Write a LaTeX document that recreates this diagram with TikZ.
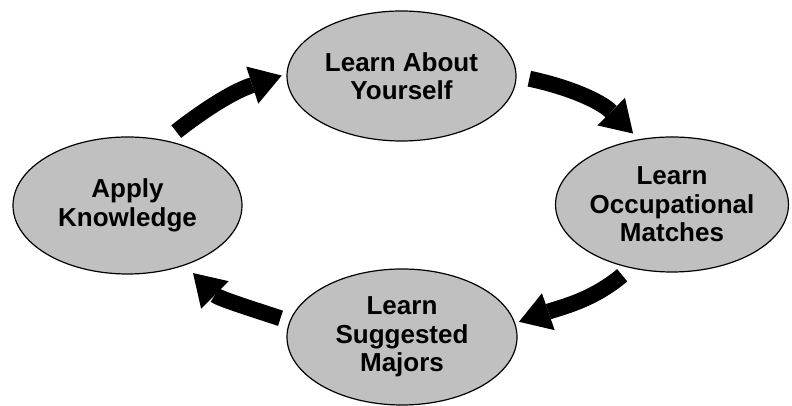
\documentclass[tikz,border=0pt]{standalone}
\usepackage{fontspec}
\setmainfont{Liberation Sans}
\usetikzlibrary{shapes.geometric,arrows.meta}
\definecolor{ovalgray}{HTML}{C0C0C0}

\begin{document}
\begin{tikzpicture}[x=1pt, y=1pt,
    stage/.style={ellipse, draw, line width=1.2pt, fill=ovalgray, inner sep=0pt, align=center,
      font=\bfseries\fontsize{26}{28.5}\selectfont},
    flow/.style={line width=16pt, -{Triangle[width=39pt,length=31pt,line width=0pt]}}]
  \useasboundingbox (0,0) rectangle (792,406);
  \node (you) [stage, minimum width=229pt, minimum height=130pt] at (401.5,330) {Learn About\\Yourself};
  \node (occ) [stage, minimum width=230pt, minimum height=135pt] at (672,201.5) {Learn\\Occupational\\Matches};
  \node (maj) [stage, minimum width=230pt, minimum height=136pt] at (402,69) {Learn\\Suggested\\Majors};
  \node (app) [stage, minimum width=229pt, minimum height=137pt] at (127.5,200.5) {Apply\\Knowledge};
  \path[flow]
  (app.60)  edge [out=38, in=198, shorten <=14pt, shorten >=5pt] (you.179)
  (you.0)   edge [out=-12, in=135, shorten <=13pt, shorten >=8pt] (occ.117)
  (occ.237) edge [out=220, in=19, shorten <=11pt, shorten >=4pt] (maj.7)
  (maj.172) edge [out=162, in=-45, shorten <=9.5pt, shorten >=11pt] (app.-46)
            ;
\end{tikzpicture}
\end{document}
